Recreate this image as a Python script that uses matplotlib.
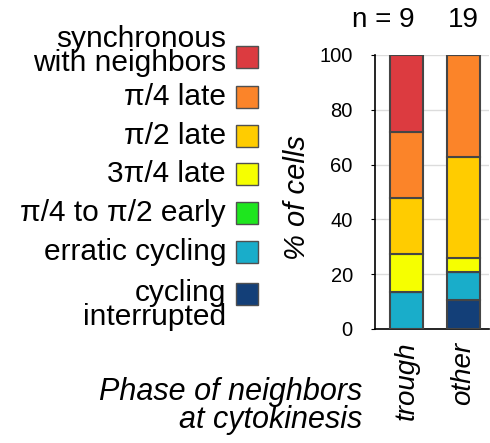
import matplotlib
matplotlib.use("Agg")
import matplotlib.pyplot as plt
from matplotlib.patches import Rectangle

plt.rcParams['font.family'] = ['Liberation Sans', 'DejaVu Sans']

# categories, bottom to top of the stack
categories = ["cycling\ninterrupted", "erratic cycling", "\u03c0/4 to \u03c0/2 early",
              "3\u03c0/4 late", "\u03c0/2 late", "\u03c0/4 late", "synchronous\nwith neighbors"]
colors = ["#133f78", "#19adca", "#1ee61e", "#f6ff00", "#ffcc00", "#fb8429", "#dc3b40"]

groups = ["trough", "other"]
counts = [9, 19]
# % of cells per category, one value per group
values = {
    "cycling\ninterrupted": [0, 10.5],
    "erratic cycling": [13.5, 10.2],
    "\u03c0/4 to \u03c0/2 early": [0, 0],
    "3\u03c0/4 late": [13.9, 5.1],
    "\u03c0/2 late": [20.4, 36.9],
    "\u03c0/4 late": [24.1, 37.3],
    "synchronous\nwith neighbors": [28.1, 0],
}

W, H = 490, 443
fig = plt.figure(figsize=(W / 100, H / 100), dpi=100)
ax = fig.add_axes([375 / W, 1 - 329 / H, 114 / W, 274 / H])

x = list(range(len(groups)))
bottom = [0.0] * len(groups)
for cat, col in zip(categories, colors):
    v = values[cat]
    ax.bar(x, v, width=0.58, bottom=bottom, color=col, edgecolor="#454545",
           linewidth=1.5, zorder=3)
    bottom = [b + vi for b, vi in zip(bottom, v)]

ax.set_xlim(-0.553, 1.447)
ax.set_ylim(0, 100)
ax.set_yticks([0, 20, 40, 60, 80, 100])
ax.tick_params(axis="y", labelsize=14.5, length=3, pad=13)
ax.set_xticks(x)
ax.set_xticklabels(groups, rotation=90, fontsize=20, style="italic")
ax.tick_params(axis="x", length=0, pad=9)
ax.grid(axis="y", color="#dcdcdc", linewidth=1, zorder=0)
for s in ["top", "right"]:
    ax.spines[s].set_visible(False)
ax.spines["left"].set_linewidth(1.2)
ax.spines["bottom"].set_linewidth(1.2)

# sample sizes above the bars
ax.text(0.15, 1.128, "n = %d" % counts[0], transform=ax.get_xaxis_transform(),
        ha="right", va="center", fontsize=20)
ax.text(1, 1.128, "%d" % counts[1], transform=ax.get_xaxis_transform(),
        ha="center", va="center", fontsize=20)

fig.text(297 / W, 1 - 198 / H, "% of cells", rotation=90, ha="center", va="center",
         fontsize=21, style="italic")
fig.text(362 / W, 1 - 406 / H, "Phase of neighbors\nat cytokinesis", ha="right",
         va="center", fontsize=22, style="italic", linespacing=0.95)

# legend drawn by hand: labels right-aligned, swatch on the right
box_y = [294, 252, 213, 174, 136, 97, 57]
text_y = [305, 252, 213, 174, 136, 97, 51]
for cat, col, by, ty in zip(categories, colors, box_y, text_y):
    fig.text(226 / W, 1 - ty / H, cat, ha="right", va="center", fontsize=21.5,
             linespacing=0.85)
    fig.add_artist(Rectangle((236 / W, 1 - (by + 11) / H), 22 / W, 22 / H,
                             transform=fig.transFigure, facecolor=col,
                             edgecolor="#505050", linewidth=1.0))

fig.savefig("out.png", dpi=100)
